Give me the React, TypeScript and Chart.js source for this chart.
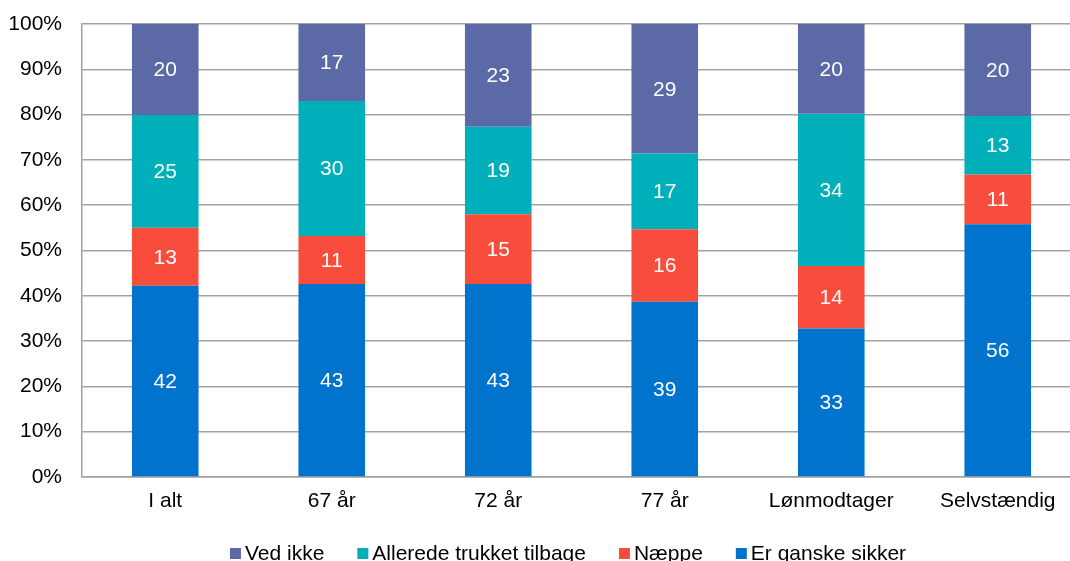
import React, { useEffect, useRef } from "react";
import { Chart, registerables } from "chart.js";

Chart.register(...registerables);

const categories = ["I alt", "67 år", "72 år", "77 år", "Lønmodtager", "Selvstændig"];
const erGanskeSikker = [42.2, 42.6, 42.6, 38.7, 32.8, 55.8];
const naeppe = [12.8, 10.6, 15.4, 16.0, 13.8, 11.0];
const alleredeTrukket = [24.9, 29.8, 19.3, 16.7, 33.6, 12.9];
const vedIkke = [20.1, 17.0, 22.7, 28.6, 19.8, 20.3];
const yTicks = [0, 10, 20, 30, 40, 50, 60, 70, 80, 90, 100];

const FONT = "'Liberation Sans', Arial, sans-serif";
const FS = 21;

const labelPlugin = {
  id: "segLabels",
  afterDatasetsDraw(chart: any) {
    const ctx = chart.ctx;
    ctx.save();
    ctx.font = `${FS}px ${FONT}`;
    ctx.fillStyle = "#ffffff";
    ctx.textAlign = "center";
    ctx.textBaseline = "middle";
    chart.data.datasets.forEach((ds: any, di: number) => {
      const meta = chart.getDatasetMeta(di);
      if (meta.hidden) return;
      meta.data.forEach((el: any, i: number) => {
        const v = ds.data[i];
        const yc = (el.y + el.base) / 2;
        ctx.fillText(String(Math.round(v)), el.x, yc + 1);
      });
    });
    ctx.restore();
  },
};

const legendPlugin = {
  id: "customLegend",
  afterDraw(chart: any) {
    const ctx = chart.ctx;
    const items = chart.data.datasets
      .map((ds: any) => ({ text: ds.label, color: ds.backgroundColor }))
      .reverse();
    const box = 11;
    const gap = 4;
    const itemGap = 33;
    ctx.save();
    ctx.font = `${FS}px ${FONT}`;
    const widths = items.map((it: any) => ctx.measureText(it.text).width);
    const total =
      widths.reduce((a: number, b: number) => a + b, 0) +
      items.length * (box + gap) +
      (items.length - 1) * itemGap;
    const cx = 568;
    const cy = 553.5;
    let x = cx - total / 2;
    ctx.textBaseline = "middle";
    ctx.textAlign = "left";
    items.forEach((it: any, i: number) => {
      ctx.fillStyle = it.color;
      ctx.fillRect(x, cy - box / 2, box, box);
      ctx.fillStyle = "#000";
      ctx.fillText(it.text, x + box + gap, cy + 1);
      x += box + gap + widths[i] + itemGap;
    });
    ctx.restore();
  },
};

export default function App() {
  const ref = useRef<HTMLCanvasElement | null>(null);
  useEffect(() => {
    if (!ref.current) return;
    const chart = new Chart(ref.current, {
      type: "bar",
      data: {
        labels: categories,
        datasets: [
          { label: "Er ganske sikker", data: erGanskeSikker, backgroundColor: "#0073CD" },
          { label: "Næppe", data: naeppe, backgroundColor: "#F84D3C" },
          { label: "Allerede trukket tilbage", data: alleredeTrukket, backgroundColor: "#00AFB9" },
          { label: "Ved ikke", data: vedIkke, backgroundColor: "#5B6AA6" },
        ],
      },
      options: {
        responsive: false,
        animation: false,
        devicePixelRatio: 1,
        datasets: { bar: { barPercentage: 0.4, categoryPercentage: 1 } },
        layout: { padding: { left: 10, right: 9, top: 24, bottom: 60 } },
        plugins: {
          tooltip: { enabled: false },
          legend: { display: false },
        },
        scales: {
          x: {
            stacked: true,
            grid: { display: false, drawTicks: false },
            border: { display: true, color: "#a0a0a0", width: 1.5 },
            ticks: { color: "#000", padding: 12, font: { size: FS, family: FONT } },
            afterFit: (axis: any) => {
              axis.height = 37;
              axis.paddingLeft = 0;
              axis.paddingRight = 0;
            },
          },
          y: {
            stacked: true,
            min: 0,
            max: 100,
            afterBuildTicks: (axis: any) => {
              axis.ticks = yTicks.map((v) => ({ value: v }));
            },
            afterFit: (axis: any) => {
              axis.width = 72;
              axis.paddingTop = 0;
              axis.paddingBottom = 0;
            },
            grid: { color: "#a3a3a3", lineWidth: 1.5, drawTicks: false },
            border: { display: true, color: "#a0a0a0", width: 1.5 },
            ticks: {
              color: "#000",
              padding: 20,
              font: { size: FS, family: FONT },
              callback: (v: any) => `${v}%`,
            },
          },
        },
      },
      plugins: [labelPlugin, legendPlugin],
    });
    return () => chart.destroy();
  }, []);
  return (
    <div style={{ position: "fixed", left: 0, top: 0, width: 1070, height: 561, overflow: "hidden", background: "#fff" }}>
      <canvas ref={ref} width={1090} height={574} style={{ display: "block" }} />
    </div>
  );
}
